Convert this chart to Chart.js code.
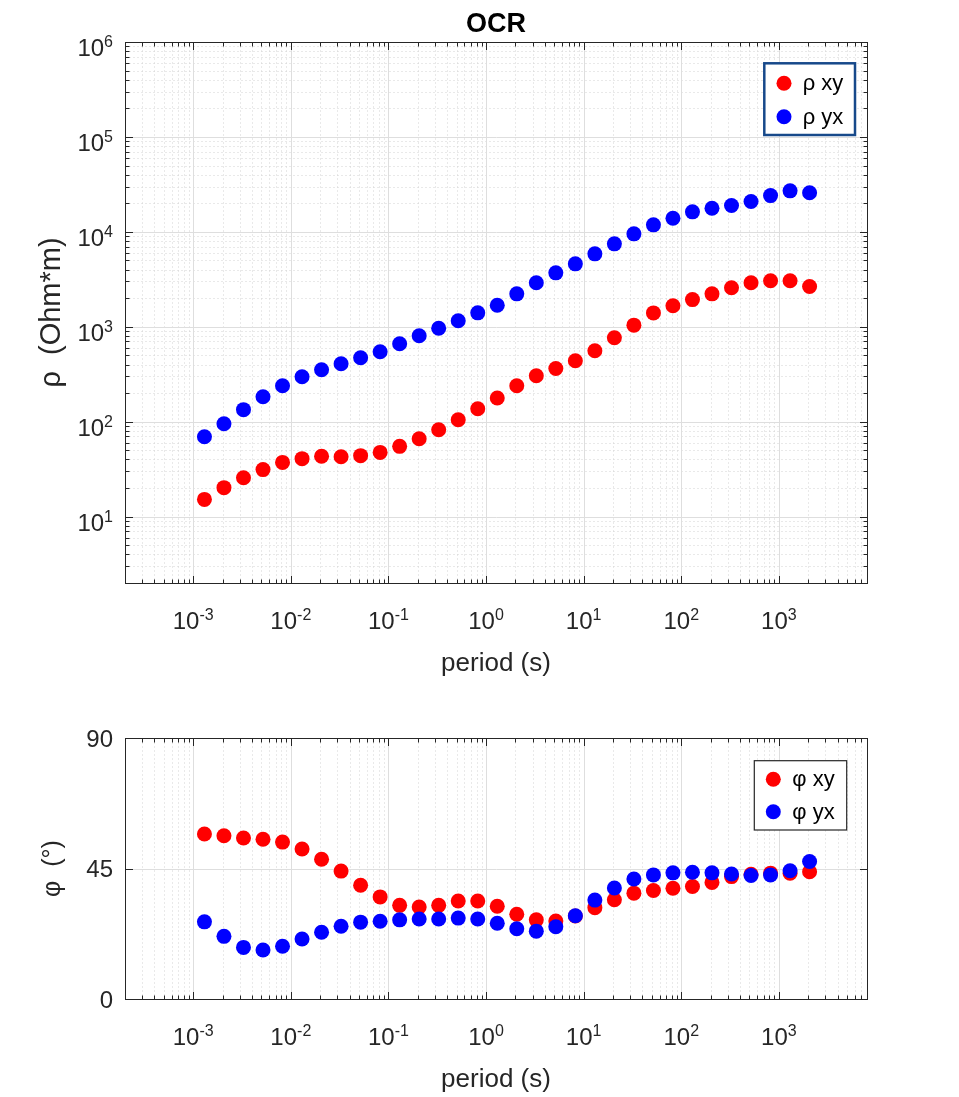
<!DOCTYPE html>
<html>
<head>
<meta charset="utf-8">
<title>OCR</title>
<script src="https://cdn.jsdelivr.net/npm/chart.js@4.4.1/dist/chart.umd.min.js"></script>
<style>
  html, body { margin: 0; padding: 0; background: #fff; }
  #page { position: relative; width: 959px; height: 1097px; }
  canvas { position: absolute; left: 0; }
  #rhoCanvas { top: 0; }
  #phiCanvas { top: 700px; }
</style>
</head>
<body>
<div id="page">
  <canvas id="rhoCanvas" width="959" height="700"></canvas>
  <canvas id="phiCanvas" width="959" height="397"></canvas>
</div>
<script>
// periods (s) of the sounding
const periods = [0.001303, 0.002065, 0.003273, 0.005188, 0.008222, 0.01303, 0.02065, 0.03273,
  0.05188, 0.08222, 0.1303, 0.2065, 0.3273, 0.5188, 0.8222, 1.303, 2.065, 3.273, 5.188, 8.222,
  13.03, 20.65, 32.73, 51.88, 82.22, 130.3, 206.5, 327.3, 518.8, 822.2, 1303, 2065];

// apparent resistivity (Ohm*m)
const rhoXY = [15.2, 20.2, 25.7, 31.3, 37.3, 40.8, 43.2, 42.8, 43.9, 47.5, 55.0, 66.2, 82.4, 105,
  137, 178, 239, 305, 364, 439, 559, 766, 1040, 1400, 1663, 1935, 2222, 2574, 2906, 3050, 3050, 2653];
const rhoYX = [69.5, 95.3, 134, 183, 239, 298, 353, 408, 472, 546, 662, 804, 966, 1156, 1403, 1687,
  2223, 2906, 3702, 4603, 5866, 7475, 9525, 11860, 13910, 16250, 17740, 18930, 20880, 24110, 27050, 25780];

// phase (degrees)
const phiXY = [56.9, 56.3, 55.5, 55.1, 54.1, 51.7, 48.2, 44.1, 39.2, 35.2, 32.3, 31.7, 32.3, 33.8,
  33.8, 32.0, 29.2, 27.3, 26.9, 28.6, 31.5, 34.2, 36.5, 37.4, 38.2, 38.8, 40.2, 42.2, 43.0, 43.4, 43.4, 43.9];
const phiYX = [26.6, 21.6, 17.8, 16.9, 18.2, 20.7, 23.0, 25.1, 26.5, 26.8, 27.3, 27.6, 27.6, 27.9,
  27.6, 26.1, 24.2, 23.4, 24.9, 28.7, 34.1, 38.3, 41.4, 42.8, 43.5, 43.7, 43.5, 43.1, 42.6, 42.8, 44.2, 47.4];

// axis limits and tick labels
const periodLimits = [2e-4, 8e3];
const rhoLimits = [2, 1e6];
const phiLimits = [0, 90];
const periodTickExps = [-3, -2, -1, 0, 1, 2, 3];
const rhoTickExps = [1, 2, 3, 4, 5, 6];
const phiTicks = [0, 45, 90];

const FONT = '"Liberation Sans", Arial, Helvetica, sans-serif';
const AXIS_COLOR = '#262626';
const RED = '#ff0000';
const BLUE = '#0000ff';

/**
 * Values 1..9 x 10^n between min and max, marking the decades as major.
 */
function logGridValues(min, max) {
    const out = [];
    for (let e = Math.floor(Math.log10(min)); e <= Math.ceil(Math.log10(max)); e++) {
        for (let m = 1; m <= 9; m++) {
            const v = m * Math.pow(10, e);
            if (v >= min * 0.9999 && v <= max * 1.0001) {
                out.push({ value: v, major: m === 1 });
            }
        }
    }
    return out;
}

function crisp(v) {
    return Math.round(v) + 0.5;
}

/**
 * Draws "10" with a raised exponent, centred or right aligned on x.
 */
function drawPower(ctx, exp, x, y, align) {
    ctx.font = `24px ${FONT}`;
    const wBase = ctx.measureText('10').width;
    ctx.font = `16px ${FONT}`;
    const wExp = ctx.measureText(String(exp)).width;
    const left = align === 'center' ? x - (wBase + wExp) / 2 : x - (wBase + wExp);
    ctx.textAlign = 'left';
    ctx.textBaseline = 'alphabetic';
    ctx.font = `24px ${FONT}`;
    ctx.fillText('10', left, y);
    ctx.font = `16px ${FONT}`;
    ctx.fillText(String(exp), left + wBase, y - 9.5);
}

/**
 * Plugin that paints the MATLAB look: grid, box, inward ticks, labels and legend.
 */
function matlabAxes(cfg) {
    return {
        id: 'matlabAxes',
        beforeDatasetsDraw(chart) {
            const { ctx, chartArea: a, scales } = chart;
            const xs = logGridValues(periodLimits[0], periodLimits[1]);
            const ys = cfg.yLog
                ? logGridValues(cfg.yLimits[0], cfg.yLimits[1])
                : cfg.yTicks.map(v => ({ value: v, major: true }));
            const L = crisp(a.left), R = crisp(a.right), T = crisp(a.top), B = crisp(a.bottom);

            ctx.save();
            ctx.lineWidth = 1;

            // minor grid, dotted
            ctx.strokeStyle = '#d2d2d2';
            ctx.setLineDash([1, 3]);
            ctx.beginPath();
            xs.filter(t => !t.major).forEach(t => {
                const px = crisp(scales.x.getPixelForValue(t.value));
                ctx.moveTo(px, T); ctx.lineTo(px, B);
            });
            ys.filter(t => !t.major).forEach(t => {
                const py = crisp(scales.y.getPixelForValue(t.value));
                ctx.moveTo(L, py); ctx.lineTo(R, py);
            });
            ctx.stroke();

            // major grid, solid
            ctx.setLineDash([]);
            ctx.strokeStyle = '#dedede';
            ctx.beginPath();
            xs.filter(t => t.major).forEach(t => {
                const px = crisp(scales.x.getPixelForValue(t.value));
                ctx.moveTo(px, T); ctx.lineTo(px, B);
            });
            ys.filter(t => t.major).forEach(t => {
                const py = crisp(scales.y.getPixelForValue(t.value));
                ctx.moveTo(L, py); ctx.lineTo(R, py);
            });
            ctx.stroke();

            // inward ticks on all four sides
            ctx.strokeStyle = AXIS_COLOR;
            ctx.beginPath();
            xs.forEach(t => {
                const px = crisp(scales.x.getPixelForValue(t.value));
                const len = t.major ? 7.5 : 4;
                ctx.moveTo(px, B); ctx.lineTo(px, B - len);
                ctx.moveTo(px, T); ctx.lineTo(px, T + len);
            });
            ys.forEach(t => {
                const py = crisp(scales.y.getPixelForValue(t.value));
                const len = t.major ? 7.5 : 4;
                ctx.moveTo(L, py); ctx.lineTo(L + len, py);
                ctx.moveTo(R, py); ctx.lineTo(R - len, py);
            });
            ctx.stroke();

            // box
            ctx.strokeRect(L, T, R - L, B - T);
            ctx.restore();
        },
        afterDraw(chart) {
            const { ctx, chartArea: a, scales } = chart;
            const cx = (a.left + a.right) / 2;
            ctx.save();
            ctx.fillStyle = AXIS_COLOR;

            // x tick labels
            periodTickExps.forEach(e => {
                drawPower(ctx, e, scales.x.getPixelForValue(Math.pow(10, e)), a.bottom + 46, 'center');
            });

            // y tick labels
            if (cfg.yLog) {
                cfg.yTickExps.forEach(e => {
                    drawPower(ctx, e, 113, scales.y.getPixelForValue(Math.pow(10, e)) + 14.4, 'right');
                });
            } else {
                ctx.font = `24px ${FONT}`;
                ctx.textAlign = 'right';
                ctx.textBaseline = 'alphabetic';
                cfg.yTicks.forEach(v => {
                    ctx.fillText(String(v), 113, scales.y.getPixelForValue(v) + 8.6);
                });
            }

            // axis titles
            ctx.font = `26px ${FONT}`;
            ctx.textAlign = 'center';
            ctx.textBaseline = 'alphabetic';
            ctx.fillText('period (s)', cx, a.bottom + 87.5);
            ctx.save();
            ctx.translate(60, (a.top + a.bottom) / 2);
            ctx.rotate(-Math.PI / 2);
            ctx.font = `${cfg.yTitleSize}px ${FONT}`;
            ctx.fillText(cfg.yTitle, 0, 0);
            ctx.restore();

            if (cfg.title) {
                ctx.fillStyle = '#000';
                ctx.font = `bold 27px ${FONT}`;
                ctx.fillText(cfg.title, cx, 31.7);
            }

            // legend
            const lg = cfg.legend;
            const x0 = a.right - lg.right - lg.width;
            const y0 = a.top + lg.top;
            ctx.fillStyle = '#fff';
            ctx.fillRect(x0, y0, lg.width, lg.height);
            ctx.lineWidth = lg.lineWidth;
            ctx.strokeStyle = lg.color;
            ctx.strokeRect(x0, y0, lg.width, lg.height);
            cfg.legendOrder.forEach((di, row) => {
                const ds = chart.data.datasets[di];
                const cy = y0 + lg.rows[row];
                ctx.fillStyle = ds.backgroundColor;
                ctx.beginPath();
                ctx.arc(x0 + lg.markerX, cy, 7.5, 0, Math.PI * 2);
                ctx.fill();
                ctx.fillStyle = '#000';
                ctx.font = `22px ${FONT}`;
                ctx.textAlign = 'left';
                ctx.fillText(ds.label, x0 + lg.textX, cy + 7);
            });
            ctx.restore();
        }
    };
}

function series(ys) {
    return periods.map((p, i) => ({ x: p, y: ys[i] }));
}

function dataset(label, ys, color, order) {
    return {
        label: label,
        data: series(ys),
        backgroundColor: color,
        borderWidth: 0,
        pointRadius: 7.5,
        pointHoverRadius: 7.5,
        order: order
    };
}

/**
 * Builds one of the two panels.
 */
function createPanel(canvasId, cfg) {
    return new Chart(document.getElementById(canvasId), {
        type: 'scatter',
        data: { datasets: cfg.datasets },
        options: {
            responsive: false,
            animation: false,
            events: [],
            layout: { padding: { top: cfg.padTop, right: 92, left: 0, bottom: 0 } },
            scales: {
                x: {
                    type: 'logarithmic',
                    min: periodLimits[0],
                    max: periodLimits[1],
                    ticks: { display: false },
                    grid: { display: false },
                    border: { display: false },
                    afterFit: s => { s.height = cfg.xAxisHeight; }
                },
                y: {
                    type: cfg.yLog ? 'logarithmic' : 'linear',
                    min: cfg.yLimits[0],
                    max: cfg.yLimits[1],
                    ticks: { display: false },
                    grid: { display: false },
                    border: { display: false },
                    afterFit: s => { s.width = 125; }
                }
            },
            plugins: {
                legend: { display: false },
                tooltip: { enabled: false },
                title: { display: false }
            }
        },
        plugins: [matlabAxes(cfg)]
    });
}

createPanel('rhoCanvas', {
    datasets: [dataset('ρ xy', rhoXY, RED, 1), dataset('ρ yx', rhoYX, BLUE, 0)],
    legendOrder: [0, 1],
    padTop: 42,
    xAxisHeight: 117,
    yLog: true,
    yLimits: rhoLimits,
    yTickExps: rhoTickExps,
    yTitle: 'ρ  (Ohm*m)',
    yTitleSize: 29,
    title: 'OCR',
    legend: { right: 12, top: 21.3, width: 90.7, height: 71.7, lineWidth: 2.5, color: '#17498a',
        markerX: 19.7, textX: 38.4, rows: [20, 53.4] }
});

createPanel('phiCanvas', {
    datasets: [dataset('φ xy', phiXY, RED, 1), dataset('φ yx', phiYX, BLUE, 0)],
    legendOrder: [0, 1],
    padTop: 38,
    xAxisHeight: 98,
    yLog: false,
    yLimits: phiLimits,
    yTicks: phiTicks,
    yTitle: 'φ  (°)',
    yTitleSize: 25,
    title: null,
    legend: { right: 20.3, top: 22.7, width: 92.4, height: 69.3, lineWidth: 1.2, color: AXIS_COLOR,
        markerX: 19, textX: 38, rows: [18.6, 51] }
});
</script>
</body>
</html>
